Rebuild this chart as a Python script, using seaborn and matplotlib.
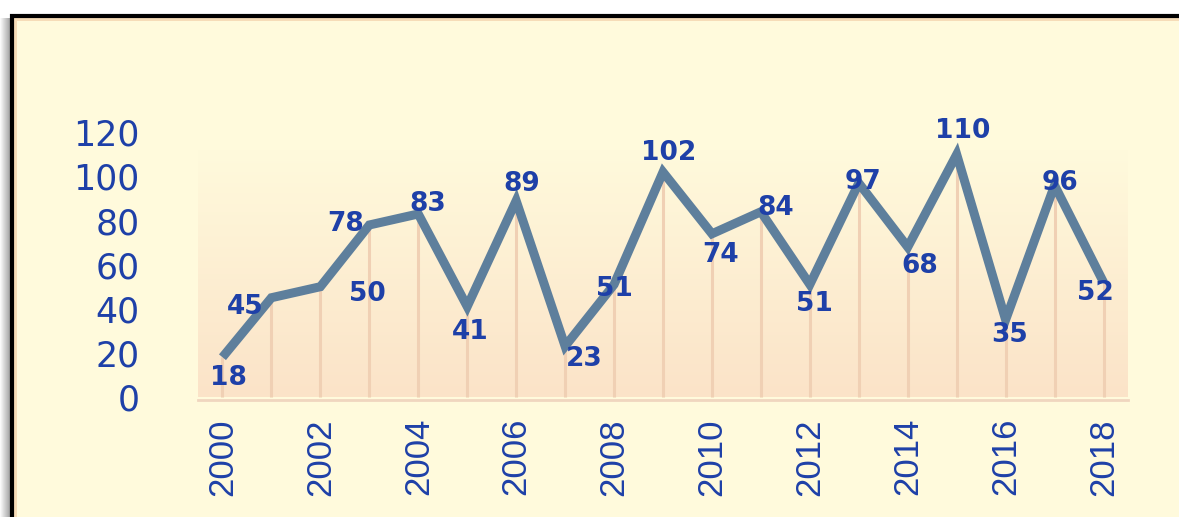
import numpy as np
import pandas as pd
import matplotlib
matplotlib.use("Agg")
import matplotlib.pyplot as plt
from matplotlib.patches import Rectangle
from matplotlib.colors import LinearSegmentedColormap
import seaborn as sns

# Series
years = list(range(2000, 2019))
values = [18, 45, 50, 78, 83, 41, 89, 23, 51, 102, 74, 84, 51, 97, 68, 110, 35, 96, 52]
year_ticks = list(range(2000, 2019, 2))
value_ticks = [0, 20, 40, 60, 80, 100, 120]

# Label placement (offset in points from each point)
label_offsets = [(4, -15), (-19, -7), (34, -5), (-17, 1), (7, 7), (2, -18), (4, 12),
                 (14, -9), (0, -3), (4, 14), (6, -15), (11, 3), (3, -14), (3, 1),
                 (9, -14), (4, 17), (3, -11), (4, 2), (-6, -8)]

BG = "#fffadc"
PEACH = "#fbe3c8"
RIM = "#f6dcb8"
LINE = "#5e7f9c"
BLUE = "#1e40a8"
DROP = "#f0d0b4"

sns.set_theme(style="white")
plt.rcParams["font.family"] = ["DejaVu Sans"]

W, H = 1179, 517
fig = plt.figure(figsize=(W / 100, H / 100), dpi=100)
fig.patch.set_facecolor("white")

# Left drop shadow of the frame
for i, g in enumerate(np.linspace(0.98, 0.62, 11)):
    fig.add_artist(Rectangle((i, -10), 1.2, H - 16 + 8, transform=None,
                             facecolor=str(g), edgecolor="none", zorder=-5))
# Frame with a thin peach inner rim
top = H - 16
fig.add_artist(Rectangle((12, -20), 1300, top + 20, transform=None,
                         facecolor=RIM, edgecolor="black", linewidth=3, zorder=-4))
fig.add_artist(Rectangle((17, -20), 1300, top + 20 - 5, transform=None,
                         facecolor=BG, edgecolor="none", zorder=-3))

ax = fig.add_axes([198 / W, 117 / H, (1128 - 198) / W, (400 - 128) / H])
ax.set_facecolor("none")
ax.set_zorder(2)

# Vertical gradient behind the series
cmap = LinearSegmentedColormap.from_list("bgfade", [PEACH, BG])
grad = np.linspace(0, 1, 256).reshape(-1, 1)
ax.imshow(grad, cmap=cmap, origin="lower", aspect="auto",
          extent=(years[0] - 0.5, years[-1] + 0.5, 0, 112), zorder=0)

df = pd.DataFrame({"year": years, "value": values})

ax.vlines(df["year"], 0, df["value"], color=DROP, linewidth=2.2, zorder=1)
sns.lineplot(data=df, x="year", y="value", ax=ax, color=LINE, linewidth=6.5,
             solid_joinstyle="miter", solid_capstyle="butt", zorder=3)

for x, y, (dx, dy) in zip(years, values, label_offsets):
    ax.annotate(str(y), (x, y), xytext=(dx, dy), textcoords="offset points",
                ha="center", va="center", fontsize=19, fontweight="bold",
                color=BLUE, zorder=5)

for side in ["top", "right", "left"]:
    ax.spines[side].set_visible(False)
ax.spines["bottom"].set_color("#f0d6bf")
ax.spines["bottom"].set_linewidth(2)
ax.grid(False)

ax.set_xlim(years[0] - 0.5, years[-1] + 0.5)
ax.set_ylim(-1.4, 122)
ax.set_xticks(year_ticks)
ax.set_xticklabels([str(t) for t in year_ticks])
ax.set_yticks(value_ticks)
ax.set_yticklabels([str(t) for t in value_ticks])
ax.tick_params(axis="x", length=0, pad=13, labelrotation=90, labelsize=25, labelcolor=BLUE)
ax.tick_params(axis="y", length=0, pad=42, labelsize=25, labelcolor=BLUE)
for lbl in ax.get_xticklabels():
    lbl.set_fontfamily(["Liberation Sans", "DejaVu Sans"])
ax.set_xlabel("")
ax.set_ylabel("")

fig.savefig("out.png", dpi=100)
